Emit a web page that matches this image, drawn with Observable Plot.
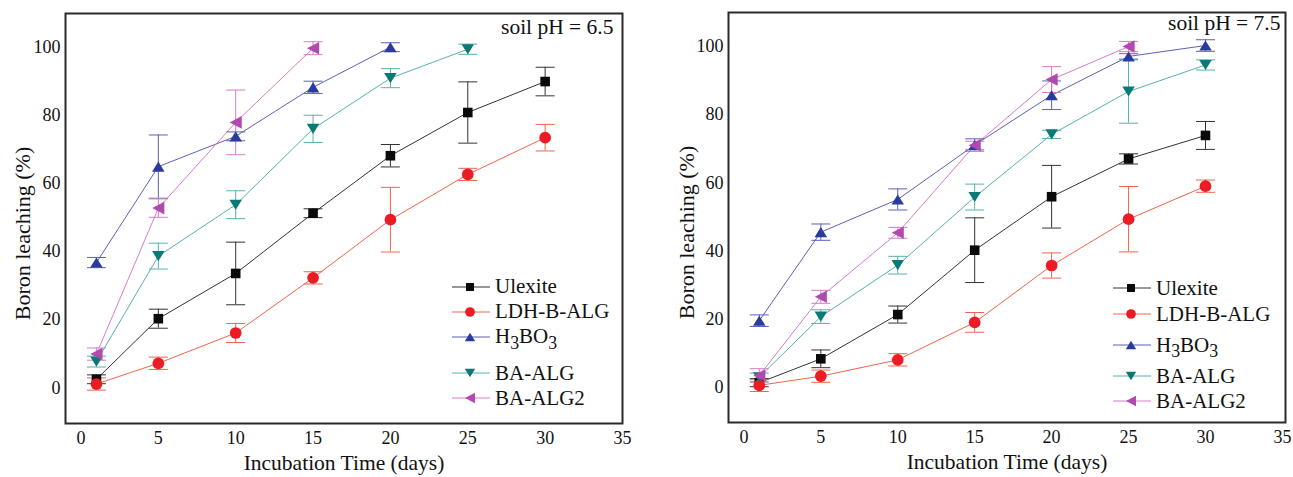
<!DOCTYPE html>
<html><head><meta charset="utf-8">
<script src="https://cdn.jsdelivr.net/npm/d3@7"></script>
<script src="https://cdn.jsdelivr.net/npm/@observablehq/plot@0.6"></script>
<style>
html,body{margin:0;padding:0;background:#fff;}
#wrap{position:relative;width:1293px;height:477px;overflow:hidden;font-family:'Liberation Serif','DejaVu Serif',serif;background:#fff;}
#wrap svg, #wrap svg text{font-family:'Liberation Serif','DejaVu Serif',serif !important;}
.panel{position:absolute;top:0;}
.leg{position:absolute;display:flex;align-items:center;font-size:21px;color:#111;white-space:nowrap;line-height:1;height:24px;}
.leg svg{display:block;}
.sub{font-size:0.85em;position:relative;top:0.3em;}
</style></head><body><div id="wrap"></div>
<script>
// ---------- data ----------
const days = [1, 5, 10, 15, 20, 25, 30];
const seriesNames = ["Ulexite", "LDH-B-ALG", "H3BO3", "BA-ALG", "BA-ALG2"];
const xTicks = [0, 5, 10, 15, 20, 25, 30, 35];
const yTicks = [0, 20, 40, 60, 80, 100];
const panelTitles = ["soil pH = 6.5", "soil pH = 7.5"];
const xTitle = "Incubation Time (days)";
const yTitle = "Boron leaching (%)";

// soil pH 6.5
const ulexite65 = [2.5, 20.3, 33.6, 51.3, 68.2, 80.9, 90.0];
const ulexite65Err = [1.3, 2.8, 9.2, 1.3, 3.3, 9.0, 4.2];
const ldh65 = [1.1, 7.2, 16.1, 32.3, 49.4, 62.7, 73.5];
const ldh65Err = [1.8, 1.8, 2.8, 1.8, 9.5, 1.8, 3.9];
const h3bo365 = [36.8, 65.0, 73.9, 88.3, 100.1];
const h3bo365Err = [1.5, 9.3, 1.3, 1.8, 1.3];
const baalg65 = [7.7, 38.7, 53.8, 76.1, 91.0, 99.5];
const baalg65Err = [1.6, 3.8, 4.1, 4.0, 2.8, 1.5];
const baalg265 = [9.9, 52.8, 78.0, 99.8];
const baalg265Err = [1.8, 2.7, 9.5, 1.9];

// soil pH 7.5
const ulexite75 = [1.3, 8.3, 21.3, 40.2, 55.9, 67.0, 73.9];
const ulexite75Err = [1.2, 2.6, 2.5, 9.5, 9.2, 1.5, 4.1];
const ldh75 = [0.5, 3.2, 8.0, 19.0, 35.7, 49.3, 59.0];
const ldh75Err = [1.8, 1.8, 1.8, 2.9, 3.7, 9.6, 1.8];
const h3bo375 = [19.5, 45.5, 55.1, 71.1, 85.7, 97.1, 100.3];
const h3bo375Err = [1.7, 2.4, 3.1, 1.8, 4.2, 0.8, 1.7];
const baalg75 = [2.9, 20.7, 35.8, 55.8, 74.2, 86.8, 94.6];
const baalg75Err = [1.2, 2.0, 2.6, 3.8, 1.2, 9.3, 1.5];
const baalg275 = [3.4, 26.5, 45.3, 71.0, 90.3, 100.0];
const baalg275Err = [2.0, 1.9, 1.6, 1.2, 3.8, 1.5];

// ---------- styles ----------
const markerColors = ["#0a0a0a", "#ec1c24", "#2b3a9e", "#0b7a76", "#b04aae"];
const lineColors = ["#333333", "#f0644e", "#5d60b6", "#55b3aa", "#d67ccb"];

const sym = {
  square: {draw(c, size) { const s = Math.sqrt(size) * 0.95 / 2; c.rect(-s, -s, 2 * s, 2 * s); }},
  circle: {draw(c, size) { const r = Math.sqrt(size) * 0.58; c.moveTo(r, 0); c.arc(0, 0, r, 0, 2 * Math.PI); }},
  up: {draw(c, size) { const s = Math.sqrt(size); const w = 0.62 * s, h = 0.5 * s; c.moveTo(0, -h); c.lineTo(w, h); c.lineTo(-w, h); c.closePath(); }},
  down: {draw(c, size) { const s = Math.sqrt(size); const w = 0.62 * s, h = 0.5 * s; c.moveTo(0, h); c.lineTo(w, -h); c.lineTo(-w, -h); c.closePath(); }},
  left: {draw(c, size) { const s = Math.sqrt(size); const w = 0.6 * s, h = 0.62 * s; c.moveTo(-w, 0); c.lineTo(w, -h); c.lineTo(w, h); c.closePath(); }},
  cap: {draw(c, size) { const r = Math.sqrt(size / Math.PI); c.moveTo(-r, 0); c.lineTo(r, 0); }}
};
const seriesSymbols = [sym.square, sym.circle, sym.up, sym.down, sym.left];

function table(valuesList, errList) {
  return valuesList.map((vals, k) => vals.map((v, i) => ({
    series: seriesNames[k], k, day: days[i], value: v, err: errList[k][i]
  })));
}
const data65 = table([ulexite65, ldh65, h3bo365, baalg65, baalg265],
                     [ulexite65Err, ldh65Err, h3bo365Err, baalg65Err, baalg265Err]);
const data75 = table([ulexite75, ldh75, h3bo375, baalg75, baalg275],
                     [ulexite75Err, ldh75Err, h3bo375Err, baalg75Err, baalg275Err]);

const font = "Liberation Serif, DejaVu Serif, serif";

function panel(groups, cfg) {
  const marks = [];
  groups.forEach((g, k) => marks.push(Plot.line(g, {x: "day", y: "value", stroke: lineColors[k], strokeWidth: 1})));
  groups.forEach((g, k) => {
    marks.push(Plot.ruleX(g, {x: "day", y1: d => d.value - d.err, y2: d => d.value + d.err, stroke: lineColors[k], strokeWidth: 1}));
    marks.push(Plot.dot(g, {x: "day", y: d => d.value + d.err, symbol: sym.cap, r: 9.5, fill: "none", stroke: lineColors[k], strokeWidth: 1}));
    marks.push(Plot.dot(g, {x: "day", y: d => d.value - d.err, symbol: sym.cap, r: 9.5, fill: "none", stroke: lineColors[k], strokeWidth: 1}));
  });
  groups.forEach((g, k) => marks.push(Plot.dot(g, {x: "day", y: "value", symbol: seriesSymbols[k], r: 5.7, fill: markerColors[k], stroke: "none"})));
  marks.push(Plot.frame({stroke: "#2a2a2a", strokeWidth: 2}));
  marks.push(Plot.text([cfg.title], {frameAnchor: "top-right", textAnchor: "end", lineAnchor: "middle", dx: cfg.tdx, dy: cfg.tdy, fontSize: 21.5, fill: "#111", fontFamily: font}));
  marks.push(Plot.text([xTitle], {frameAnchor: "bottom", textAnchor: "middle", lineAnchor: "middle", dy: 40, fontSize: 21.5, fill: "#111", fontFamily: font}));
  marks.push(Plot.text([yTitle], {frameAnchor: "left", textAnchor: "middle", lineAnchor: "middle", rotate: -90, dx: cfg.ydx, dy: 15, fontSize: 22, fill: "#111", fontFamily: font}));
  const svg = Plot.plot({
    width: cfg.width, height: 477,
    marginLeft: cfg.ml, marginRight: cfg.mr, marginTop: cfg.mt, marginBottom: cfg.mb,
    style: {fontFamily: font, fontSize: "18px", color: "#111", background: "transparent"},
    x: {domain: cfg.xd, ticks: xTicks, tickSize: 0, tickPadding: 8, label: null},
    y: {domain: cfg.yd, ticks: yTicks, tickSize: 0, tickPadding: 5, label: null},
    marks
  });
  svg.setAttribute("font-family", font);
  svg.style.fontFamily = font;
  return svg;
}

const wrap = document.getElementById("wrap");
const p1 = panel(data65, {width: 646, ml: 65, mr: 24, mt: 13, mb: 54, xd: [-1, 35], yd: [-10.5, 110], title: panelTitles[0], tdx: -9, tdy: 14, ydx: -43});
p1.classList.add("panel"); p1.style.left = "0px";
const p2 = panel(data75, {width: 647, ml: 82, mr: 8, mt: 12, mb: 55, xd: [-1, 35.2], yd: [-10.4, 110], title: panelTitles[1], tdx: -5, tdy: 11, ydx: -42});
p2.classList.add("panel"); p2.style.left = "646px";
wrap.appendChild(p1); wrap.appendChild(p2);

// ---------- legends ----------
function legend(x0, ys) {
  seriesNames.forEach((name, k) => {
    const row = document.createElement("div");
    row.className = "leg";
    row.style.left = x0 + "px";
    row.style.top = (ys[k] - 12) + "px";
    const svg = d3.create("svg").attr("width", 38).attr("height", 24);
    svg.append("line").attr("x1", 0).attr("x2", 38).attr("y1", 12).attr("y2", 12).attr("stroke", lineColors[k]).attr("stroke-width", 1);
    svg.append("path").attr("d", d3.symbol(seriesSymbols[k], 70)()).attr("transform", "translate(18,12)").attr("fill", markerColors[k]);
    row.appendChild(svg.node());
    const span = document.createElement("span");
    span.style.marginLeft = "5px";
    if (name === "H3BO3") span.innerHTML = 'H<span class="sub">3</span>BO<span class="sub">3</span>';
    else span.textContent = name;
    row.appendChild(span);
    wrap.appendChild(row);
  });
}
legend(452, [286.7, 311.7, 336.7, 373.3, 398.3]);
legend(1113, [288.3, 314.3, 345, 376, 401]);
</script></body></html>
